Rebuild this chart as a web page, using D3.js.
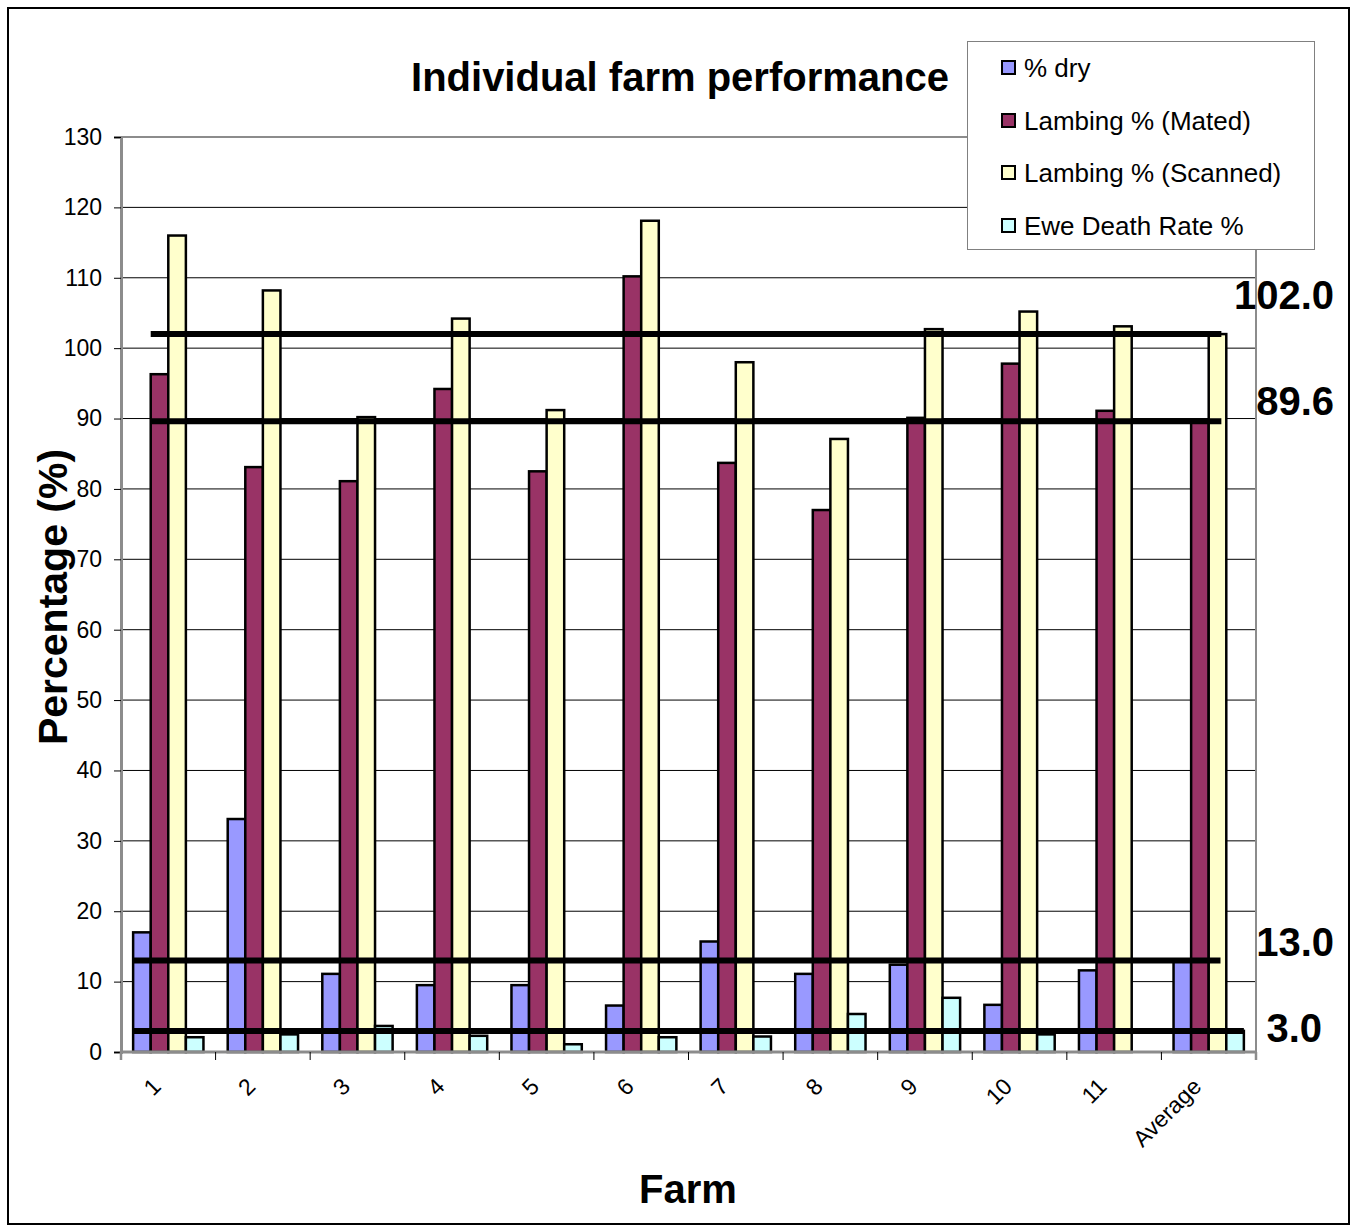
<!DOCTYPE html>
<html>
<head>
<meta charset="utf-8">
<script src="https://cdn.jsdelivr.net/npm/d3@7"></script>
<style>
  html, body { margin: 0; padding: 0; background: #fff; }
  svg { display: block; font-family: Arial, "Liberation Sans", sans-serif; }
</style>
</head>
<body>
<svg id="chart" width="1355" height="1230"></svg>
<script>
// Farms along the x axis
const farms = ["1", "2", "3", "4", "5", "6", "7", "8", "9", "10", "11", "Average"];

// Series names, in legend order
const seriesNames = ["% dry", "Lambing % (Mated)", "Lambing % (Scanned)", "Ewe Death Rate %"];

// Values per farm for each series
const dryPct      = [17.0, 33.1, 11.1, 9.5, 9.5, 6.6, 15.7, 11.1, 12.4, 6.7, 11.6, 13.0];
const matedPct    = [96.3, 83.1, 81.1, 94.2, 82.5, 110.2, 83.7, 77.0, 90.1, 97.8, 91.1, 89.6];
const scannedPct  = [116.0, 108.2, 90.2, 104.2, 91.2, 118.1, 98.0, 87.1, 102.7, 105.2, 103.1, 102.0];
const deathPct    = [2.1, 2.5, 3.7, 2.3, 1.1, 2.1, 2.2, 5.4, 7.7, 2.5, null, 3.0];

// Reference (average) lines and their labels
const refValues = [102.0, 89.6, 13.0, 3.0];
const refLabels = ["102.0", "89.6", "13.0", "3.0"];

// Y axis ticks
const yTicks = [0, 10, 20, 30, 40, 50, 60, 70, 80, 90, 100, 110, 120, 130];

const seriesValues = [dryPct, matedPct, scannedPct, deathPct];
const seriesColors = ["#9999FF", "#993366", "#FFFFCC", "#CCFFFF"];

const svg = d3.select("#chart");

// outer frame
svg.append("rect")
  .attr("x", 8).attr("y", 8).attr("width", 1341).attr("height", 1216)
  .attr("fill", "#fff").attr("stroke", "#000").attr("stroke-width", 2);

const plot = { left: 121, right: 1256, top: 137, bottom: 1052 };

const x0 = d3.scaleBand().domain(farms).range([plot.left, plot.right]).paddingInner(0).paddingOuter(0);
const x1 = d3.scaleBand().domain(d3.range(seriesNames.length)).range([0, x0.bandwidth()])
  .paddingInner(0).paddingOuter(0.69);
const y = d3.scaleLinear().domain([0, 130]).range([plot.bottom, plot.top]);

// horizontal gridlines
svg.append("g").selectAll("line").data(yTicks.filter(t => t > 0 && t < 130)).join("line")
  .attr("x1", plot.left).attr("x2", plot.right)
  .attr("y1", d => y(d)).attr("y2", d => y(d))
  .attr("stroke", "#000").attr("stroke-width", 1);

// plot frame (top and right)
svg.append("path")
  .attr("d", `M${plot.left},${plot.top}H${plot.right}V${plot.bottom}`)
  .attr("fill", "none").attr("stroke", "#8c8c8c").attr("stroke-width", 2);

// bars
const barGroups = svg.append("g").selectAll("g").data(farms).join("g")
  .attr("transform", d => `translate(${x0(d)},0)`);

barGroups.selectAll("rect")
  .data((farm, i) => seriesValues.map((vals, s) => ({ s, v: vals[i] })).filter(d => d.v != null && d.v > 0))
  .join("rect")
  .attr("x", d => x1(d.s))
  .attr("width", x1.bandwidth())
  .attr("y", d => y(d.v))
  .attr("height", d => y(0) - y(d.v))
  .attr("fill", d => seriesColors[d.s])
  .attr("stroke", "#000").attr("stroke-width", 2.5);

// Y axis
const yAxis = d3.axisLeft(y).tickValues(yTicks).tickSize(7).tickPadding(12);
const gy = svg.append("g").attr("transform", `translate(${plot.left},0)`).call(yAxis);
gy.select(".domain").attr("stroke", "#8c8c8c").attr("stroke-width", 3);
gy.selectAll(".tick line").attr("stroke", "#000");
gy.selectAll(".tick text").attr("font-size", 23).attr("fill", "#000")
  .attr("font-family", "Arial, 'Liberation Sans', sans-serif");

// X axis line and category boundary ticks
svg.append("line")
  .attr("x1", plot.left).attr("x2", plot.right)
  .attr("y1", plot.bottom).attr("y2", plot.bottom)
  .attr("stroke", "#8c8c8c").attr("stroke-width", 3);
const boundaries = farms.map(f => x0(f)).concat([plot.right]);
svg.append("g").selectAll("line").data(boundaries).join("line")
  .attr("x1", d => d).attr("x2", d => d)
  .attr("y1", plot.bottom).attr("y2", plot.bottom + 8)
  .attr("stroke", d => (d === plot.left || d === plot.right) ? "#8c8c8c" : "#000")
  .attr("stroke-width", d => (d === plot.left || d === plot.right) ? 2.5 : 1);

// X category labels, rotated
svg.append("g").selectAll("text").data(farms).join("text")
  .attr("transform", d => `translate(${x0(d) + x0.bandwidth() / 2 - 6},${plot.bottom + 36}) rotate(-45)`)
  .attr("text-anchor", "end")
  .attr("font-size", 23)
  .text(d => d);

// reference lines: span from a bar edge in the first group to a point inside the last group
const firstFarm = farms[0], lastFarm = farms[farms.length - 1];
const refSpan = [
  { from: 1, to: 3 - 0.28 },
  { from: 1, to: 3 - 0.28 },
  { from: 0, to: 3 - 0.33 },
  { from: 0, to: 4 }
];
const barEdge = (farm, pos) => x0(farm) + x1(0) + pos * x1.bandwidth();
svg.append("g").selectAll("line").data(refValues).join("line")
  .attr("x1", (d, i) => barEdge(firstFarm, refSpan[i].from))
  .attr("x2", (d, i) => barEdge(lastFarm, refSpan[i].to))
  .attr("y1", d => y(d)).attr("y2", d => y(d))
  .attr("stroke", "#000").attr("stroke-width", 6);

// reference labels at the right
const labelPlace = [
  { dx: 1334, dy: -25 },
  { dx: 1334, dy: -6 },
  { dx: 1334, dy: -5 },
  { dx: 1322, dy: 11 }
];
svg.append("g").selectAll("text").data(refValues).join("text")
  .attr("x", (d, i) => labelPlace[i].dx)
  .attr("y", (d, i) => y(d) + labelPlace[i].dy)
  .attr("text-anchor", "end")
  .attr("font-size", 40).attr("font-weight", "bold")
  .text((d, i) => refLabels[i]);

// title
svg.append("text")
  .attr("x", 680).attr("y", 91)
  .attr("text-anchor", "middle")
  .attr("font-size", 40).attr("font-weight", "bold")
  .text("Individual farm performance");

// axis titles
svg.append("text")
  .attr("transform", "translate(67,597) rotate(-90)")
  .attr("text-anchor", "middle")
  .attr("font-size", 41).attr("font-weight", "bold")
  .text("Percentage (%)");

svg.append("text")
  .attr("x", 688).attr("y", 1203)
  .attr("text-anchor", "middle")
  .attr("font-size", 40).attr("font-weight", "bold")
  .text("Farm");

// legend
const legend = svg.append("g");
legend.append("rect")
  .attr("x", 967.5).attr("y", 41.5).attr("width", 347).attr("height", 208)
  .attr("fill", "#fff").attr("stroke", "#808080").attr("stroke-width", 1);
const legendRows = [68, 121, 173, 226];
const items = legend.selectAll("g").data(seriesNames).join("g")
  .attr("transform", (d, i) => `translate(1002,${legendRows[i]})`);
items.append("rect")
  .attr("x", 0).attr("y", -7).attr("width", 13).attr("height", 13)
  .attr("fill", (d, i) => seriesColors[i])
  .attr("stroke", "#000").attr("stroke-width", 2);
items.append("text")
  .attr("x", 22).attr("y", 0).attr("dy", "0.36em")
  .attr("font-size", 26)
  .text(d => d);
</script>
</body>
</html>
